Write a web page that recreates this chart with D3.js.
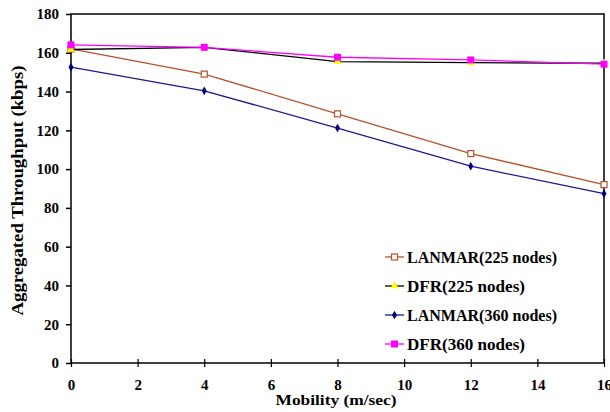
<!DOCTYPE html>
<html><head><meta charset="utf-8">
<script src="https://cdn.jsdelivr.net/npm/d3@7"></script>
<style>body{margin:0;background:#fff}svg{display:block}text{font-family:"Liberation Serif","Times New Roman",serif;font-weight:bold}</style>
</head><body><svg id="c" width="610" height="412"></svg>
<script>
const mobility = [0, 4, 8, 12, 16];
const lanmar225 = [162, 149, 128.5, 108, 92];
const dfr225 = [161.7, 162.8, 155.4, 154.9, 154.6];
const lanmar360 = [152.6, 140.4, 121.2, 101.5, 87.3];
const dfr360 = [164.1, 162.8, 157.7, 156.3, 154.1];
const xTicks = [0, 2, 4, 6, 8, 10, 12, 14, 16];
const yTicks = [0, 20, 40, 60, 80, 100, 120, 140, 160, 180];
const seriesNames = ["LANMAR(225 nodes)", "DFR(225 nodes)", "LANMAR(360 nodes)", "DFR(360 nodes)"];

const series = [
  {name: seriesNames[0], values: lanmar225, line: "#B5522A", marker: "square-open", mcolor: "#B5522A"},
  {name: seriesNames[1], values: dfr225, line: "#000000", marker: "triangle", mcolor: "#FFFF00"},
  {name: seriesNames[2], values: lanmar360, line: "#1a1a8c", marker: "diamond", mcolor: "#000080"},
  {name: seriesNames[3], values: dfr360, line: "#FF00FF", marker: "square", mcolor: "#FF00FF"}
];

const svg = d3.select("#c");
const L = 71, R = 604, T = 14, B = 363;
const x = d3.scaleLinear().domain([0, 16]).range([L, R]);
const y = d3.scaleLinear().domain([0, 180]).range([B, T]);

svg.append("rect").attr("x", L).attr("y", T).attr("width", R - L).attr("height", B - T)
  .attr("fill", "none").attr("stroke", "#000").attr("stroke-width", 1.5);

const ya = svg.append("g").attr("transform", `translate(${L},0)`)
  .call(d3.axisLeft(y).tickValues(yTicks).tickSize(5).tickPadding(7));
ya.select(".domain").remove();
ya.selectAll("line").attr("stroke", "#000").attr("stroke-width", 1.5);
ya.selectAll("text").attr("font-size", 15).attr("fill", "#000").style("font-family", "Liberation Serif").style("font-weight", "bold");

const xa = svg.append("g").attr("transform", `translate(0,${B})`)
  .call(d3.axisBottom(x).tickValues(xTicks).tickSize(4).tickPadding(12));
xa.select(".domain").remove();
xa.selectAll("line").attr("stroke", "#000").attr("stroke-width", 1.2).attr("y1", -4);
xa.selectAll("text").attr("font-size", 15).attr("fill", "#000").style("font-family", "Liberation Serif").style("font-weight", "bold");

svg.append("text").attr("x", 336).attr("y", 405).attr("text-anchor", "middle").attr("font-size", 14.5)
  .attr("textLength", 121).attr("lengthAdjust", "spacingAndGlyphs").text("Mobility (m/sec)");
svg.append("text").attr("transform", `translate(23,${(T + B) / 2 + 2}) rotate(-90)`).attr("text-anchor", "middle").attr("font-size", 16)
  .attr("textLength", 250).attr("lengthAdjust", "spacingAndGlyphs").text("Aggregated Throughput (kbps)");

function marker(g, type, color, cx, cy) {
  if (type === "square-open") g.append("rect").attr("x", cx - 3).attr("y", cy - 3).attr("width", 6).attr("height", 6).attr("fill", "#fff").attr("stroke", color).attr("stroke-width", 1.2);
  else if (type === "square") g.append("rect").attr("x", cx - 3.5).attr("y", cy - 3.5).attr("width", 7).attr("height", 7).attr("fill", color);
  else if (type === "triangle") g.append("path").attr("d", d3.symbol(d3.symbolTriangle, 28)()).attr("transform", `translate(${cx},${cy})`).attr("fill", color);
  else if (type === "diamond") g.append("path").attr("d", d3.symbol(d3.symbolDiamond, 22)()).attr("transform", `translate(${cx},${cy})`).attr("fill", color);
}

const line = d3.line().x((d, i) => x(mobility[i])).y(d => y(d));
series.forEach(s => {
  const g = svg.append("g");
  g.append("path").attr("d", line(s.values)).attr("fill", "none").attr("stroke", s.line).attr("stroke-width", 1.3);
  s.values.forEach((v, i) => marker(g, s.marker, s.mcolor, x(mobility[i]), y(v)));
});

const ly = [257, 286, 315, 344];
const lw = [150, 118, 150, 118];
series.forEach((s, i) => {
  const g = svg.append("g");
  g.append("line").attr("x1", 385).attr("x2", 404).attr("y1", ly[i]).attr("y2", ly[i]).attr("stroke", s.line).attr("stroke-width", 1.3);
  marker(g, s.marker, s.mcolor, 394.5, ly[i]);
  g.append("text").attr("x", 407).attr("y", ly[i] + 6).attr("font-size", 17)
    .attr("textLength", lw[i]).attr("lengthAdjust", "spacingAndGlyphs").text(s.name);
});
</script></body></html>
